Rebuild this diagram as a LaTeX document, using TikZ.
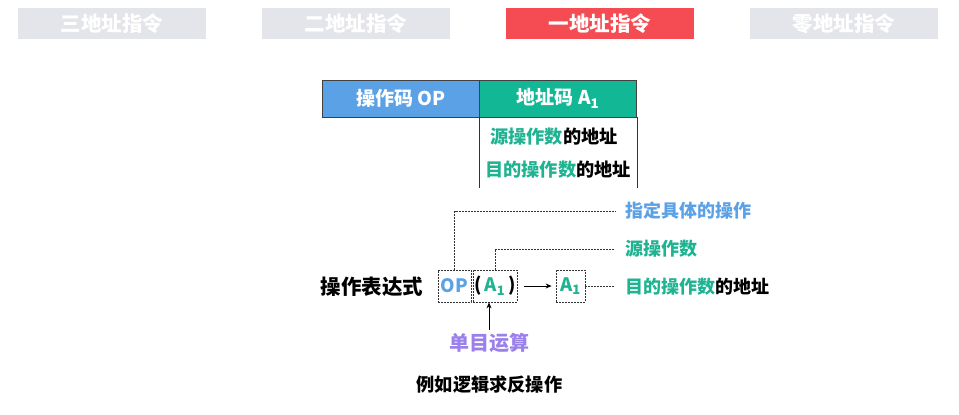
\documentclass[tikz,border=0pt]{standalone}
\usepackage{fontspec}
\setmainfont{Noto Sans CJK SC}
\usetikzlibrary{arrows.meta}
\definecolor{tabgray}{HTML}{E4E5EA}
\definecolor{tabred}{HTML}{F54B52}
\definecolor{opblue}{HTML}{5BA1E6}
\definecolor{addrgreen}{HTML}{12B795}
\definecolor{txtgreen}{HTML}{1FB392}
\definecolor{unpurple}{HTML}{9B80EC}
\newcommand{\fs}[1]{\bfseries\fontsize{#1}{#1}\selectfont}
\begin{document}
\begin{tikzpicture}[x=1pt,y=-1pt,
 tab/.style={fill=tabgray,text=white,font=\fs{20.5},minimum width=188pt,minimum height=31pt,inner sep=0pt},
 cell/.style={draw=black!75,line width=0.8pt,text=white,font=\fs{19},minimum width=157pt,minimum height=37pt,inner sep=0pt},
 lab/.style={font=\fs{18},inner sep=0pt,anchor=west},
 dbox/.style={draw=black!80,dash pattern=on 2pt off 1pt,line width=0.8pt,minimum height=32pt,inner sep=0pt,font=\fs{18.5}},
 guide/.style={draw=black!80,dash pattern=on 2pt off 1pt,line width=0.8pt},
 >={Stealth[length=6pt,width=5pt]}]
\useasboundingbox (0,0) rectangle (959,415);
% tabs
\node[tab] (three) at (112,23.5) {三地址指令};
\node[tab] (two) at (356,23.5) {二地址指令};
\node[tab,fill=tabred] (one) at (600,23.5) {一地址指令};
\node[tab] (zero) at (844,23.5) {零地址指令};
% instruction format
\node[cell,fill=opblue] (opcode) at (401,98.5) {操作码 OP};
\node[cell,fill=addrgreen] (addr) at (558,98.5) {地址码 A\textsubscript{1}};
\draw[black!80,line width=0.8pt] (addr.south west) -- ++(0,71);
\draw[black!80,line width=0.8pt] (addr.south east) -- ++(0,71);
\node[font=\fs{18.2}] (src) at (554,137) {\textcolor{txtgreen}{源操作数}的地址};
\node[font=\fs{18.2}] (dst) at (558,170) {\textcolor{txtgreen}{目的操作数}的地址};
% expression
\node[font=\fs{20.5}] (expr) at (372,287) {操作表达式};
\node[dbox,minimum width=33pt,text=opblue] (op) at (454.5,286) {OP};
\node[dbox,minimum width=44pt] (args) at (495,286) {(\,\textcolor{txtgreen}{A\textsubscript{1}}\,)};
\node[dbox,minimum width=29pt,text=txtgreen] (res) at (570.5,286) {A\textsubscript{1}};
\draw[->,line width=0.8pt] ([xshift=7pt]args.east) -- ([xshift=-4pt]res.west);
\node[lab,text=opblue] (lblop) at (625,211) {指定具体的操作};
\node[lab,text=txtgreen] (lblsrc) at (625,249) {源操作数};
\node[lab] (lbldst) at (625,287) {\textcolor{txtgreen}{目的操作数}的地址};
\draw[guide] (op.north) |- ([xshift=-10pt]lblop.west);
\draw[guide] (args.north) |- ([xshift=-10pt]lblsrc.west);
\draw[guide] (res.east) -- ([xshift=-10pt]res.east -| lbldst.west);
\node[font=\fs{20},text=unpurple] (unary) at (489,343) {单目运算};
\draw[->,line width=0.8pt] (unary.north) -- (unary.north |- args.south);
\node[font=\fs{18.2}] (example) at (489.5,385) {例如逻辑求反操作};
\end{tikzpicture}
\end{document}
